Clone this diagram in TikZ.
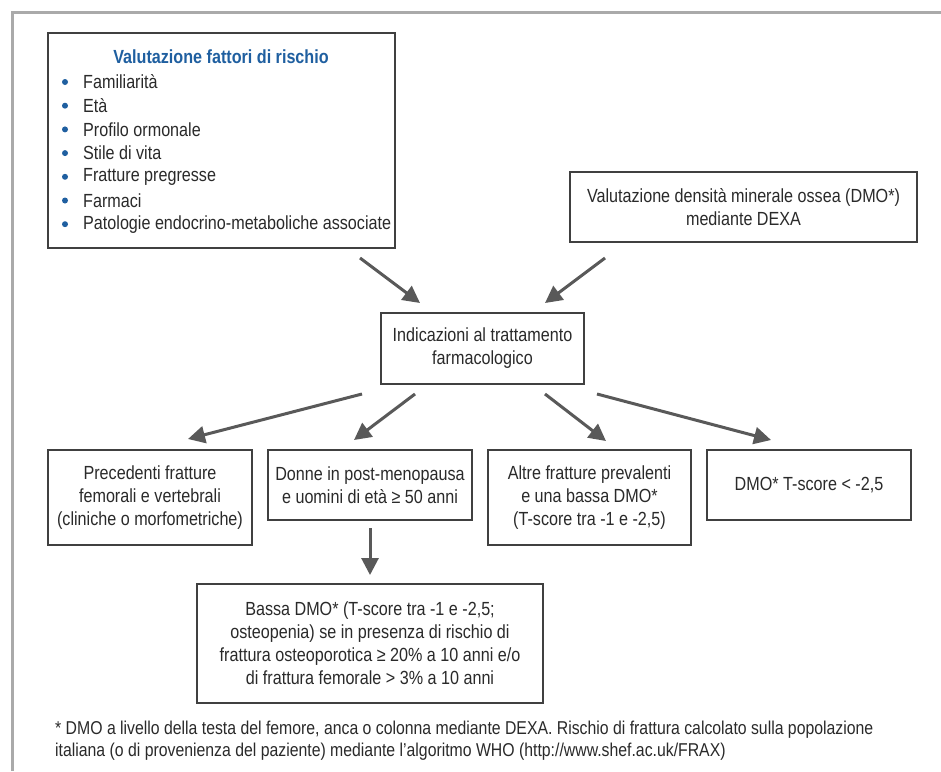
\documentclass[tikz,border=0pt]{standalone}
\usepackage{fontspec}
\setmainfont[FakeStretch=0.85]{Liberation Sans}
\usetikzlibrary{arrows.meta}
\definecolor{framegray}{HTML}{AAAAAA}
\definecolor{boxline}{HTML}{404040}
\definecolor{arrowgray}{HTML}{595959}
\definecolor{titleblue}{HTML}{1F5FA0}
\definecolor{txt}{HTML}{2A2A2A}
\begin{document}
\begin{tikzpicture}[x=1pt,y=-1pt,
  box/.style={draw=boxline, line width=1.3pt, inner sep=0pt, align=center, text=txt, font=\fontsize{19}{23}\selectfont},
  arr/.style={draw=arrowgray, line width=3pt, -{Triangle[length=17pt,width=17pt]}},
  itemtext/.style={anchor=west, inner sep=0pt, text=txt, font=\fontsize{19}{23}\selectfont},
  bullet/.style={circle, fill=titleblue, inner sep=0pt, minimum size=6pt},
  foot/.style={anchor=west, inner sep=0pt, text=txt, font=\fontsize{18.6}{21}\selectfont},
]
\useasboundingbox (0,0) rectangle (941,771);
\fill[white] (0,0) rectangle (941,771);
\draw[framegray, line width=3pt] (12,771) -- (12,12) -- (941,12);

% risk factor box
\node[box, minimum width=347pt, minimum height=215pt] (risk) at (221.5,140.5) {};
\node[inner sep=0pt, text=titleblue, font=\fontsize{19}{23}\selectfont\bfseries] (title) at (221,57) {Valutazione fattori di rischio};
\foreach \t [count=\i from 0] in {Familiarità, Età, Profilo ormonale, Stile di vita, Fratture pregresse, Farmaci, Patologie endocrino-metaboliche associate}{
  \node[bullet] (b\i) at (65,{82+23.7*\i}) {};
  \node[itemtext] (t\i) at (83,{82+23.7*\i}) {\t};
}

\node[box, minimum width=347pt, minimum height=70pt] (dmo) at (743.5,207) {Valutazione densità minerale ossea (DMO*)\\mediante DEXA};
\node[box, minimum width=203pt, minimum height=71pt] (ind) at (482.5,348.5) {Indicazioni al trattamento\\farmacologico};

\node[box, minimum width=204pt, minimum height=95pt] (c1) at (150,497.5) {Precedenti fratture\\femorali e vertebrali\\(cliniche o morfometriche)};
\node[box, minimum width=204pt, minimum height=70pt] (c2) at (370,485) {Donne in post-menopausa\\e uomini di età ≥ 50 anni};
\node[box, minimum width=203pt, minimum height=95pt] (c3) at (589.5,497.5) {Altre fratture prevalenti\\e una bassa DMO*\\(T-score tra -1 e -2,5)};
\node[box, minimum width=204pt, minimum height=70pt] (c4) at (809,485) {DMO* T-score < -2,5};
\node[box, minimum width=346pt, minimum height=119pt] (low) at (370,643.5) {Bassa DMO* (T-score tra -1 e -2,5;\\osteopenia) se in presenza di rischio di\\frattura osteoporotica ≥ 20\% a 10 anni e/o\\di frattura femorale > 3\% a 10 anni};

% arrow end points
\coordinate (a1s) at (360,258); \coordinate (a1e) at (420,303);
\coordinate (a2s) at (605,258); \coordinate (a2e) at (545,303);
\coordinate (a3s) at (362,394); \coordinate (a3e) at (188,439);
\coordinate (a4s) at (415,394); \coordinate (a4e) at (354,440);
\coordinate (a5s) at (545,394); \coordinate (a5e) at (606,441);
\coordinate (a6s) at (597,394); \coordinate (a6e) at (771,440);
\coordinate (a7s) at (c2.south |- 0,528); \coordinate (a7e) at (c2.south |- 0,575);
\draw[arr] (a1s) -- (a1e);
\draw[arr] (a2s) -- (a2e);
\draw[arr] (a3s) -- (a3e);
\draw[arr] (a4s) -- (a4e);
\draw[arr] (a5s) -- (a5e);
\draw[arr] (a6s) -- (a6e);
\draw[arr] (a7s) -- (a7e);

\node[foot] (fn1) at (55,730) {* DMO a livello della testa del femore, anca o colonna mediante DEXA. Rischio di frattura calcolato sulla popolazione};
\node[foot] (fn2) at (55,752) {italiana (o di provenienza del paziente) mediante l'algoritmo WHO (http://www.shef.ac.uk/FRAX)};
\end{tikzpicture}
\end{document}
